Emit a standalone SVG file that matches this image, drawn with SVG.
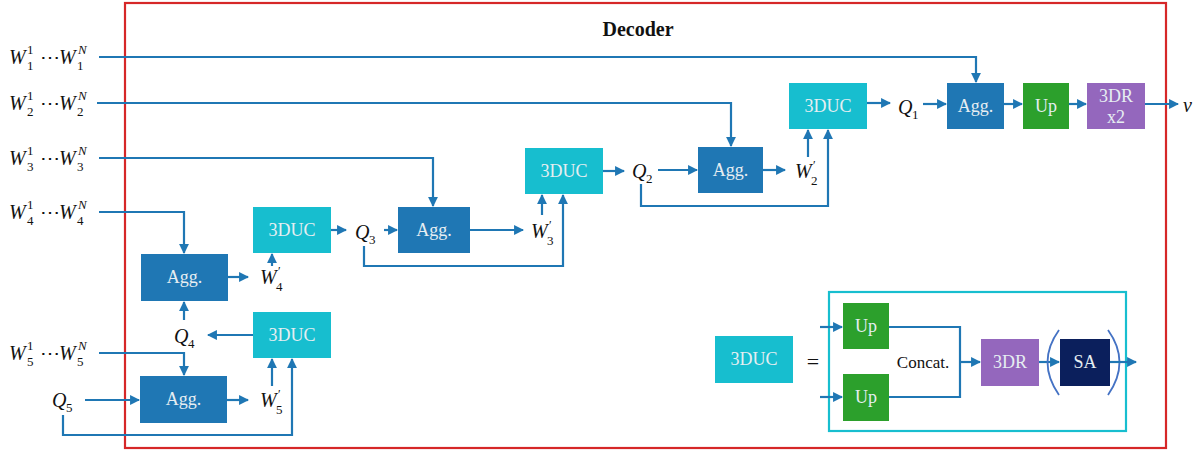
<svg xmlns="http://www.w3.org/2000/svg" width="1196" height="450" viewBox="0 0 1196 450">
<defs>
<marker id="ah" viewBox="0 0 10 10" refX="9" refY="5" markerWidth="4.5" markerHeight="4.5" orient="auto" markerUnits="strokeWidth">
<path d="M0,0 L10,5 L0,10 z" fill="#1f77b4"/>
</marker>
<style>
.ln{fill:none;stroke:#1f77b4;stroke-width:2.2}
.ar{fill:none;stroke:#1f77b4;stroke-width:2.2;marker-end:url(#ah)}
.bt{font-family:"Liberation Serif","DejaVu Serif",serif;font-size:18px;fill:#e6eef2;text-anchor:middle}
.m{font-family:"Liberation Serif","DejaVu Serif",serif;font-style:italic;font-size:20px;fill:#111}
.s{font-size:13px;font-style:normal}
.si{font-size:13px}
.pr{font-size:12px;font-style:normal}
.agg{fill:#1f77b4}
.duc{fill:#17becf}
.up{fill:#2ca02c}
.dr{fill:#9467bd}
</style>
</defs>
<rect x="0" y="0" width="1196" height="450" fill="#fff"/>
<rect id="decoder" x="125" y="3" width="1041" height="445" fill="none" stroke="#d62728" stroke-width="2.2"/>
<text x="638" y="36" font-family="Liberation Serif,serif" font-weight="bold" font-size="20" text-anchor="middle" fill="#111">Decoder</text>

<g id="inputs">
<text class="m" x="9" y="64">W<tspan class="s" x="27" y="70">1</tspan><tspan class="s" x="27" y="54">1</tspan><tspan x="40" y="64" font-style="normal">⋯</tspan><tspan x="59" y="64">W</tspan><tspan class="s" x="77" y="70">1</tspan><tspan class="si" x="78" y="54">N</tspan></text>
<text class="m" x="9" y="110">W<tspan class="s" x="27" y="116">2</tspan><tspan class="s" x="27" y="100">1</tspan><tspan x="40" y="110" font-style="normal">⋯</tspan><tspan x="59" y="110">W</tspan><tspan class="s" x="77" y="116">2</tspan><tspan class="si" x="78" y="100">N</tspan></text>
<text class="m" x="9" y="165">W<tspan class="s" x="27" y="171">3</tspan><tspan class="s" x="27" y="155">1</tspan><tspan x="40" y="165" font-style="normal">⋯</tspan><tspan x="59" y="165">W</tspan><tspan class="s" x="77" y="171">3</tspan><tspan class="si" x="78" y="155">N</tspan></text>
<text class="m" x="9" y="219">W<tspan class="s" x="27" y="225">4</tspan><tspan class="s" x="27" y="209">1</tspan><tspan x="40" y="219" font-style="normal">⋯</tspan><tspan x="59" y="219">W</tspan><tspan class="s" x="77" y="225">4</tspan><tspan class="si" x="78" y="209">N</tspan></text>
<text class="m" x="9" y="360">W<tspan class="s" x="27" y="366">5</tspan><tspan class="s" x="27" y="350">1</tspan><tspan x="40" y="360" font-style="normal">⋯</tspan><tspan x="59" y="360">W</tspan><tspan class="s" x="77" y="366">5</tspan><tspan class="si" x="78" y="350">N</tspan></text>
<text class="m" x="52" y="407">Q<tspan class="s" x="66" y="412">5</tspan></text>
</g>

<g id="labels">
<text class="m" x="174" y="343">Q<tspan class="s" x="188" y="348">4</tspan></text>
<text class="m" x="355" y="239">Q<tspan class="s" x="369" y="244">3</tspan></text>
<text class="m" x="632" y="178">Q<tspan class="s" x="646" y="183">2</tspan></text>
<text class="m" x="898" y="114">Q<tspan class="s" x="912" y="119">1</tspan></text>
<text class="m" x="260" y="284">W<tspan class="s" x="276" y="291">4</tspan><tspan class="pr" x="278" y="275">′</tspan></text>
<text class="m" x="260" y="407">W<tspan class="s" x="276" y="414">5</tspan><tspan class="pr" x="278" y="398">′</tspan></text>
<text class="m" x="531" y="238">W<tspan class="s" x="547" y="245">3</tspan><tspan class="pr" x="549" y="229">′</tspan></text>
<text class="m" x="795" y="178">W<tspan class="s" x="811" y="185">2</tspan><tspan class="pr" x="813" y="169">′</tspan></text>
<text class="m" x="1183" y="112">v</text>
</g>

<g id="connectors">
<polyline class="ar" points="99,57 976,57 976,82"/>
<polyline class="ar" points="97,103 731,103 731,146"/>
<polyline class="ar" points="99,158 433,158 433,206"/>
<polyline class="ar" points="99,212 184,212 184,253"/>
<polyline class="ar" points="99,353 184,353 184,375"/>
<line class="ar" x1="85" y1="400" x2="139" y2="400"/>
<polyline class="ar" points="63,415 63,435 292,435 292,359"/>
<line class="ar" x1="228" y1="277" x2="248" y2="277"/>
<line class="ar" x1="272" y1="266" x2="272" y2="254"/>
<line class="ar" x1="253" y1="335" x2="208" y2="335"/>
<line class="ar" x1="184" y1="320" x2="184" y2="302"/>
<line class="ar" x1="227" y1="400" x2="248" y2="400"/>
<line class="ar" x1="272" y1="386" x2="272" y2="359"/>
<line class="ar" x1="331" y1="230" x2="346" y2="230"/>
<line class="ar" x1="384" y1="230" x2="397" y2="230"/>
<line class="ar" x1="470" y1="230" x2="523" y2="230"/>
<line class="ar" x1="542" y1="215" x2="542" y2="195"/>
<polyline class="ar" points="364,246 364,266 563,266 563,195"/>
<line class="ar" x1="603" y1="171" x2="624" y2="171"/>
<line class="ar" x1="658" y1="170" x2="697" y2="170"/>
<line class="ar" x1="763" y1="170" x2="785" y2="170"/>
<line class="ar" x1="808" y1="157" x2="808" y2="130"/>
<polyline class="ar" points="641,184 641,206 828,206 828,130"/>
<line class="ar" x1="867" y1="103" x2="890" y2="103"/>
<line class="ar" x1="923" y1="104" x2="946" y2="104"/>
<line class="ar" x1="1004" y1="104" x2="1022" y2="104"/>
<line class="ar" x1="1069" y1="104" x2="1086" y2="104"/>
<line class="ar" x1="1145" y1="104" x2="1178" y2="104"/>
</g>

<g id="agg4"><rect class="agg" x="141" y="254" width="87" height="47"/><text class="bt" x="184.5" y="283">Agg.</text></g>
<g id="agg5"><rect class="agg" x="140" y="376" width="87" height="47"/><text class="bt" x="183.5" y="405">Agg.</text></g>
<g id="agg3"><rect class="agg" x="398" y="207" width="72" height="46"/><text class="bt" x="434" y="236">Agg.</text></g>
<g id="agg2"><rect class="agg" x="698" y="147" width="65" height="46"/><text class="bt" x="730.5" y="176">Agg.</text></g>
<g id="agg1"><rect class="agg" x="947" y="83" width="57" height="46"/><text class="bt" x="975.5" y="112">Agg.</text></g>
<g id="duc4"><rect class="duc" x="253" y="207" width="78" height="46"/><text class="bt" x="292" y="236">3DUC</text></g>
<g id="duc5"><rect class="duc" x="253" y="312" width="78" height="46"/><text class="bt" x="292" y="341">3DUC</text></g>
<g id="duc3"><rect class="duc" x="525" y="148" width="78" height="46"/><text class="bt" x="564" y="177">3DUC</text></g>
<g id="duc2"><rect class="duc" x="789" y="83" width="78" height="46"/><text class="bt" x="828" y="112">3DUC</text></g>
<g id="up"><rect class="up" x="1023" y="83" width="46" height="46"/><text class="bt" x="1046" y="112">Up</text></g>
<g id="dr2"><rect class="dr" x="1087" y="83" width="58" height="46"/><text class="bt" x="1116" y="102">3DR</text><text class="bt" x="1116" y="123">x2</text></g>

<g id="legend">
<rect x="829" y="292" width="297" height="139" fill="none" stroke="#17becf" stroke-width="2.2"/>
<rect class="duc" x="715" y="336" width="78" height="47"/><text class="bt" x="754" y="365">3DUC</text>
<text x="813" y="369" font-family="Liberation Serif,serif" font-size="22" text-anchor="middle" fill="#111">=</text>
<line class="ar" x1="820" y1="327" x2="842" y2="327"/>
<line class="ar" x1="820" y1="397" x2="842" y2="397"/>
<polyline class="ln" points="889,327 960,327 960,397 889,397"/>
<line class="ar" x1="960" y1="362" x2="980" y2="362"/>
<rect class="up" x="843" y="303" width="46" height="46"/><text class="bt" x="866" y="332">Up</text>
<rect class="up" x="843" y="374" width="46" height="47"/><text class="bt" x="866" y="403">Up</text>
<text x="923" y="368" font-family="Liberation Serif,serif" font-size="17" text-anchor="middle" fill="#111">Concat.</text>
<rect class="dr" x="981" y="339" width="58" height="47"/><text class="bt" x="1010" y="368">3DR</text>
<line class="ar" x1="1039" y1="362" x2="1059" y2="362"/>
<rect x="1060" y="339" width="50" height="47" fill="#0b1f5c"/><text class="bt" x="1085" y="368">SA</text>
<path d="M1059,330 Q1036,362 1059,395" fill="none" stroke="#4472c4" stroke-width="1.8"/>
<path d="M1108,330 Q1131,362 1108,395" fill="none" stroke="#4472c4" stroke-width="1.8"/>
<line class="ar" x1="1110" y1="362" x2="1136" y2="362"/>
</g>
</svg>
